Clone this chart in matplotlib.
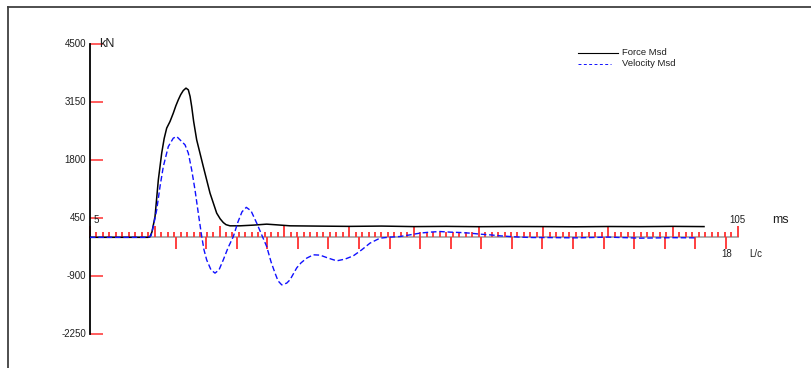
import matplotlib
matplotlib.use("Agg")
import matplotlib.pyplot as plt
import matplotlib.transforms as mtransforms
from matplotlib.lines import Line2D
import numpy as np

plt.rcParams['font.family'] = ['Liberation Sans', 'DejaVu Sans']

# Force record (time in ms, force in kN)
force_t = [5.0, 12.7, 14.0, 14.26, 14.57, 15.04, 15.55, 16.07, 16.45, 16.84, 17.35, 17.86,
           18.25, 18.63, 19.00, 19.40, 19.82, 20.18, 20.45, 20.70, 21.0, 21.47, 22.49,
           23.53, 24.56, 25.10, 25.58, 26.0, 26.61, 28.16, 30.21, 32.28, 33.82, 35.88,
           40.51, 45.0, 50.0, 55.0, 60.0, 65.0, 70.0, 75.0, 80.0, 85.0, 90.0, 95.0, 99.8]
force_kn = [0, 0, 0, 12, 128, 484, 1338, 1960, 2300, 2542, 2695, 2891,
            3060, 3200, 3320, 3417, 3473, 3433, 3280, 3044, 2700, 2269, 1648,
            1029, 563, 430, 344, 295, 268, 268, 284, 307, 291, 268,
            261, 255, 262, 250, 255, 248, 252, 250, 246, 252, 249, 255, 250]

# Velocity record scaled by impedance (kN)
vel_t = [5.0, 13.95, 14.42, 14.77, 15.30, 15.81, 16.32, 17.09, 17.86, 18.39, 18.90,
         19.67, 20.18, 20.70, 21.21, 21.72, 22.25, 22.60, 23.01, 23.68, 24.30,
         24.92, 25.58, 26.31, 27.13, 27.85, 28.47, 29.13, 29.86, 30.74, 31.51,
         32.28, 32.95, 33.57, 34.03, 34.60, 35.37, 35.88, 36.92, 37.58, 38.46,
         39.48, 40.51, 41.79, 43.09, 44.37, 45.65, 46.95, 48.23, 49.77, 51.32,
         52.86, 54.41, 55.95, 57.49, 59.04, 60.58, 62.13, 63.67, 65.21, 66.76,
         68.30, 69.84, 71.39, 73.40, 75.51, 80.0, 85.0, 90.0, 95.0, 98.4]
vel_kn = [0, 0, 35, 251, 640, 1182, 1648, 2113, 2309, 2346, 2269,
          2153, 1960, 1571, 1106, 563, 19, -291, -524, -757, -833,
          -757, -524, -244, 19, 361, 594, 698, 617, 331, 58,
          -214, -570, -833, -1013, -1106, -1066, -989, -710, -594, -484,
          -407, -414, -484, -547, -507, -431, -291, -135, -19, 5,
          19, 58, 98, 121, 135, 121, 112, 98, 74, 58,
          35, 19, 5, -5, -5, -12, 5, -19, -8, -12]

y_ticks = [4500, 3150, 1800, 450, -900, -2250]
t_start, t_end = 5, 105
lc_zero, lc_ms = 18.23, 4.718   # ms position of L/c = 0 and length of one L/c
lc_count = 18

RED = '#ff3030'
BLUE = '#1010ff'
TXT = '#202020'

fig = plt.figure(figsize=(8.12, 3.68), dpi=100)
ax = fig.add_axes([90 / 812, 34 / 368, 647.7 / 812, 290 / 368])
ax.set_xlim(t_start, t_end)
ax.set_ylim(-2250, 4500)
ax.axis('off')

# pixel coordinates measured from the top-left corner of the figure
top_px = mtransforms.Affine2D().scale(1 / 812, -1 / 368).translate(0, 1) + fig.transFigure

# outer frame (runs off the right and bottom edges)
fig.add_artist(Line2D([8, 820], [6.5, 6.5], transform=top_px, color='#404040', lw=1.3))
fig.add_artist(Line2D([8, 8], [6.5, 380], transform=top_px, color='#404040', lw=1.3))

# time base line
ax.plot([t_start, t_end], [0, 0], color='#a8a8a8', lw=1.3, clip_on=False)

# ms ticks above the base line
ms = np.arange(t_start, t_end + 1)
short = ms[(ms - t_start) % 10 != 0]
tall = ms[(ms - t_start) % 10 == 0]
ax.vlines(short, 0, 135, color=RED, lw=1.3, clip_on=False)
ax.vlines(tall, 0, 265, color=RED, lw=1.3, clip_on=False)

# L/c ticks below the base line
lc_pos = lc_zero + lc_ms * np.arange(lc_count + 1)
ax.vlines(lc_pos, -275, 0, color=RED, lw=1.3, clip_on=False)

# force axis
ax.hlines(y_ticks, t_start, t_start + 1.96, color=RED, lw=1.1, clip_on=False)
ax.plot([t_start, t_start], [y_ticks[-1], y_ticks[0]], color='black', lw=1.3, clip_on=False)
for v in y_ticks:
    ax.annotate(str(v), xy=(t_start, v), xytext=(-4, 0), textcoords='offset pixels',
                ha='right', va='center', fontsize=7, color=TXT)
ax.annotate('kN', xy=(t_start, y_ticks[0]), xytext=(9, 0), textcoords='offset pixels',
            ha='left', va='center', fontsize=9, color=TXT)

# curves
ax.plot(force_t, force_kn, color='black', lw=1.1, clip_on=False)
ax.plot(vel_t, vel_kn, color=BLUE, lw=1.0, linestyle=(0, (4, 2)), clip_on=False)

# time / L/c labels
ax.annotate('5', xy=(t_start, 0), xytext=(6.7, 17), textcoords='offset pixels',
            ha='center', va='center', fontsize=7, color=TXT)
ax.annotate('105', xy=(t_end, 0), xytext=(0, 17.3), textcoords='offset pixels',
            ha='center', va='center', fontsize=7, color=TXT)
ax.annotate('ms', xy=(t_end, 0), xytext=(34, 17.3), textcoords='offset pixels',
            ha='left', va='center', fontsize=9, color=TXT)
ax.annotate(str(lc_count), xy=(lc_pos[-1], 0), xytext=(0.5, -16.5), textcoords='offset pixels',
            ha='center', va='center', fontsize=7, color=TXT)
ax.annotate('L/c', xy=(lc_pos[-1], 0), xytext=(23.6, -16.5), textcoords='offset pixels',
            ha='left', va='center', fontsize=7, color=TXT)

# legend
fig.add_artist(Line2D([578, 618], [52.7, 52.7], transform=top_px, color='black', lw=0.8))
fig.add_artist(Line2D([578, 611], [64, 64], transform=top_px, color=BLUE, lw=0.7,
                      linestyle=(0, (3, 2.5))))
fig.text(622, 52.7, 'Force Msd', transform=top_px, ha='left', va='center',
         fontsize=6.8, color=TXT)
fig.text(622, 64, 'Velocity Msd', transform=top_px, ha='left', va='center',
         fontsize=6.8, color=TXT)

fig.savefig('out.png', dpi=100)
